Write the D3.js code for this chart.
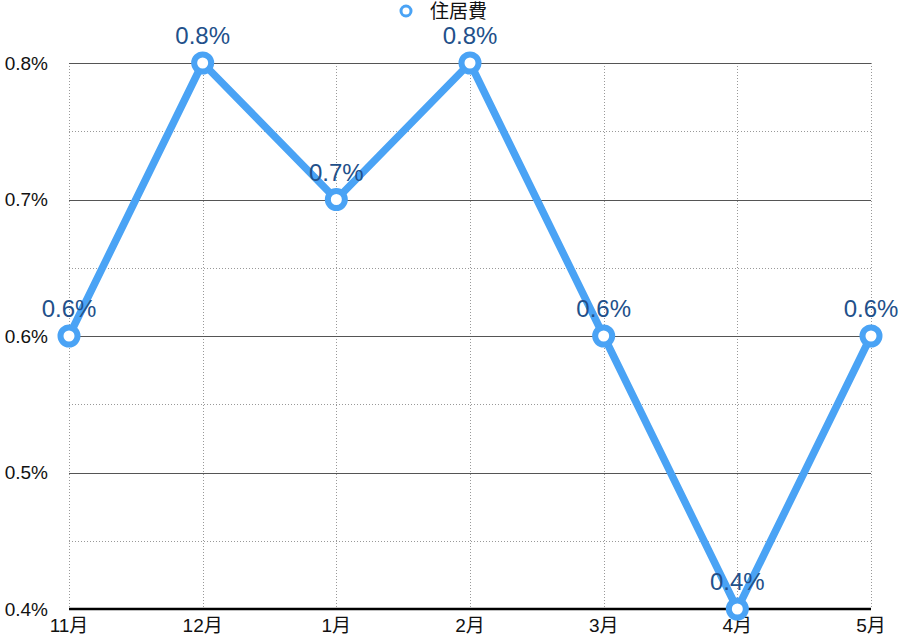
<!DOCTYPE html>
<html>
<head>
<meta charset="utf-8">
<script src="https://cdn.jsdelivr.net/npm/d3@7"></script>
<style>
  body { margin: 0; background: #fff; }
  svg { display: block; font-family: "Liberation Sans", "Noto Sans CJK JP", sans-serif; }
</style>
</head>
<body>
<svg id="chart" width="902" height="636"></svg>
<script>
// data
const months = ["11月", "12月", "1月", "2月", "3月", "4月", "5月"];
const values = [0.6, 0.8, 0.7, 0.8, 0.6, 0.4, 0.6];
const seriesName = "住居費";
const yTicks = [0.4, 0.5, 0.6, 0.7, 0.8];

const svg = d3.select("#chart");
const margin = { top: 63, right: 31, bottom: 27, left: 69 };
const width = 902, height = 636;

const x = d3.scalePoint().domain(months).range([margin.left, width - margin.right]);
const y = d3.scaleLinear().domain([0.4, 0.8]).range([height - margin.bottom, margin.top]);

const lineColor = "#4aa3f5";
const labelColor = "#22508a";
const fmt = d => d3.format(".1f")(d) + "%";

// minor dotted gridlines (half steps)
const minor = d3.range(0.45, 0.8, 0.1);
svg.append("g")
  .selectAll("line")
  .data(minor)
  .join("line")
  .attr("x1", margin.left).attr("x2", width - margin.right)
  .attr("y1", d => Math.round(y(d)) + 0.5).attr("y2", d => Math.round(y(d)) + 0.5)
  .attr("stroke", "#999").attr("stroke-dasharray", "1,2");

// vertical dotted gridlines
svg.append("g")
  .selectAll("line")
  .data(months)
  .join("line")
  .attr("x1", d => Math.round(x(d)) + 0.5).attr("x2", d => Math.round(x(d)) + 0.5)
  .attr("y1", margin.top).attr("y2", height - margin.bottom)
  .attr("stroke", "#999").attr("stroke-dasharray", "1,2");

// major gridlines
svg.append("g")
  .selectAll("line")
  .data(yTicks.slice(1))
  .join("line")
  .attr("x1", margin.left).attr("x2", width - margin.right)
  .attr("y1", d => Math.round(y(d)) + 0.5).attr("y2", d => Math.round(y(d)) + 0.5)
  .attr("stroke", "#555");

// y axis labels
svg.append("g")
  .selectAll("text")
  .data(yTicks)
  .join("text")
  .attr("x", 48)
  .attr("y", d => y(d))
  .attr("dy", "0.36em")
  .attr("text-anchor", "end")
  .attr("font-size", 19)
  .attr("fill", "#111")
  .text(fmt);

// baseline
svg.append("line")
  .attr("x1", margin.left).attr("x2", width - margin.right)
  .attr("y1", y(0.4)).attr("y2", y(0.4))
  .attr("stroke", "#000").attr("stroke-width", 2.5);

// x axis labels
svg.append("g")
  .selectAll("text")
  .data(months)
  .join("text")
  .attr("x", d => x(d))
  .attr("y", 632)
  .attr("text-anchor", "middle")
  .attr("font-size", 19)
  .attr("fill", "#111")
  .text(d => d);

// line
const line = d3.line()
  .x((d, i) => x(months[i]))
  .y(d => y(d));

svg.append("path")
  .datum(values)
  .attr("d", line)
  .attr("fill", "none")
  .attr("stroke", lineColor)
  .attr("stroke-width", 7.5)
  .attr("stroke-linejoin", "round");

// data labels
svg.append("g")
  .selectAll("text")
  .data(values)
  .join("text")
  .attr("x", (d, i) => x(months[i]))
  .attr("y", d => y(d) - 19)
  .attr("text-anchor", "middle")
  .attr("font-size", 24)
  .attr("fill", labelColor)
  .text(fmt);

// markers
svg.append("g")
  .selectAll("circle")
  .data(values)
  .join("circle")
  .attr("cx", (d, i) => x(months[i]))
  .attr("cy", d => y(d))
  .attr("r", 8.5)
  .attr("fill", "#fff")
  .attr("stroke", lineColor)
  .attr("stroke-width", 6);

// legend
const legend = svg.append("g").attr("transform", "translate(406,11)");
legend.append("circle")
  .attr("r", 5)
  .attr("fill", "#fff")
  .attr("stroke", lineColor)
  .attr("stroke-width", 3);
legend.append("text")
  .attr("x", 24)
  .attr("dy", "0.36em")
  .attr("font-size", 19)
  .attr("fill", "#111")
  .text(seriesName);
</script>
</body>
</html>
